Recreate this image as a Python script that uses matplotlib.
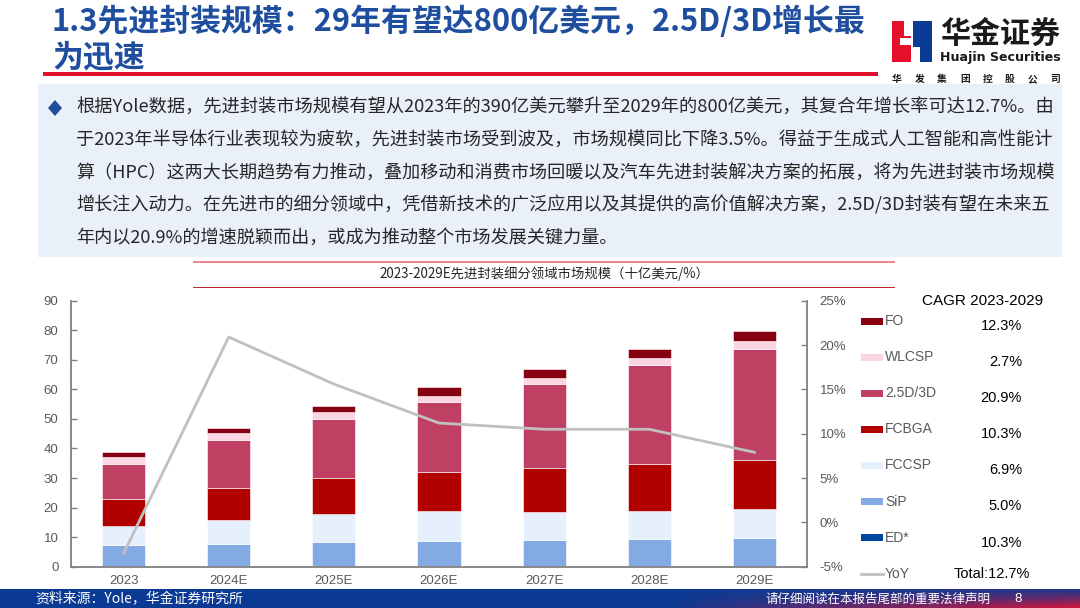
import numpy as np
import matplotlib
matplotlib.use("Agg")
import matplotlib.pyplot as plt
from matplotlib.patches import Rectangle, Polygon

W, H = 1080, 608

# ---- data (billion USD), stacked bottom -> top
years = ['2023', '2024E', '2025E', '2026E', '2027E', '2028E', '2029E']
segments = ['ED*', 'SiP', 'FCCSP', 'FCBGA', '2.5D/3D', 'WLCSP', 'FO']
ed = [0.1, 0.1, 0.1, 0.1, 0.1, 0.2, 0.2]
sip = [7.1, 7.7, 8.2, 8.6, 9.1, 9.3, 9.4]
fccsp = [6.5, 8.0, 9.4, 10.2, 9.4, 9.4, 9.8]
fcbga = [9.3, 10.8, 12.3, 13.1, 14.9, 15.8, 16.7]
d25_3d = [11.9, 16.2, 20.1, 23.7, 28.3, 33.6, 37.7]
wlcsp = [2.2, 2.3, 2.1, 2.2, 2.1, 2.3, 2.4]
fo = [1.8, 1.8, 2.1, 2.8, 3.0, 3.1, 3.5]
yoy = [-3.5, 20.9, 15.6, 11.2, 10.5, 10.5, 7.9]
cagr = ['10.3%', '5.0%', '6.9%', '10.3%', '20.9%', '2.7%', '12.3%']
total_cagr = 'Total:12.7%'

colors = ['#0046A0', '#84AAE4', '#E6F0FD', '#B00000', '#C04064', '#F9D6E1', '#870012']

title_lines = ['1.3先进封装规模：29年有望达800亿美元，2.5D/3D增长最', '为迅速']
body_lines = [
    '根据Yole数据，先进封装市场规模有望从2023年的390亿美元攀升至2029年的800亿美元，其复合年增长率可达12.7%。由',
    '于2023年半导体行业表现较为疲软，先进封装市场受到波及，市场规模同比下降3.5%。得益于生成式人工智能和高性能计',
    '算（HPC）这两大长期趋势有力推动，叠加移动和消费市场回暖以及汽车先进封装解决方案的拓展，将为先进封装市场规模',
    '增长注入动力。在先进市的细分领域中，凭借新技术的广泛应用以及其提供的高价值解决方案，2.5D/3D封装有望在未来五',
    '年内以20.9%的增速脱颖而出，或成为推动整个市场发展关键力量。',
]
chart_title = '2023-2029E先进封装细分领域市场规模（十亿美元/%）'

CJK = ['Noto Sans CJK SC', 'DejaVu Sans']
LAT = ['Liberation Sans', 'Noto Sans CJK SC']
plt.rcParams['font.family'] = LAT

fig = plt.figure(figsize=(W / 100, H / 100), dpi=100)
renderer = fig.canvas.get_renderer()


def fx(x):
    return x / W


def fy(y):
    return 1 - y / H


def rect(x0, y0, x1, y1, color, **kw):
    fig.add_artist(Rectangle((fx(x0), fy(y1)), (x1 - x0) / W, (y1 - y0) / H,
                             transform=fig.transFigure, facecolor=color,
                             edgecolor='none', **kw))


def fit(t, width):
    w = t.get_window_extent(renderer=renderer).width
    t.set_fontsize(t.get_fontsize() * width / w)
    return t.get_fontsize()


# ---- header
tt = fig.text(fx(52), fy(22), title_lines[0], family=CJK, weight='bold',
              color='#1F4E9E', fontsize=20, va='center', ha='left')
fs = fit(tt, 812)
fig.text(fx(52), fy(57), title_lines[1], family=CJK, weight='bold',
         color='#1F4E9E', fontsize=fs, va='center', ha='left')
rect(43, 72, 878, 76, '#E0102A')

# logo
rect(892, 21, 911, 62, '#E5102A')
rect(913, 21, 932, 62, '#0A3C96')
rect(904, 21, 911, 36, 'white')
rect(913, 47, 920, 62, 'white')
rect(900, 38, 911, 45, 'white')
lg = fig.text(fx(940), fy(34), '华金证券', family=CJK, weight='bold',
              color='#1A1A1A', fontsize=20, va='center', ha='left')
fit(lg, 120)
lg2 = fig.text(fx(940), fy(57), 'Huajin Securities', family=['DejaVu Sans'],
               weight='bold', color='#1A1A1A', fontsize=9, va='center', ha='left')
fit(lg2, 120)
for i, ch in enumerate('华发集团控股公司'):
    fig.text(fx(897 + i * 22.6), fy(79), ch, family=CJK, weight='bold',
             color='#1A1A1A', fontsize=7, va='center', ha='center')

# ---- text box
rect(38, 84, 1062, 257, '#EAF0FA')
fig.add_artist(Polygon([(fx(55), fy(100)), (fx(62), fy(108)), (fx(55), fy(116)), (fx(48), fy(108))],
                       closed=True, transform=fig.transFigure, facecolor='#1F4E9E', edgecolor='none'))
sizes = []
for i, line in enumerate(body_lines):
    t = fig.text(fx(76), fy(108 + i * 32.4), line, family=CJK, color='#262626',
                 fontsize=12.5, va='center', ha='left')
    if i < 4:
        sizes.append(fit(t, 977))
    else:
        t.set_fontsize(np.mean(sizes))

# ---- chart title
rect(193, 261, 895, 262.5, '#E8898F')
rect(193, 287, 895, 288.5, '#C0282E')
fig.text(fx(544), fy(274), chart_title, family=CJK, color='#262626',
         fontsize=9.6, va='center', ha='center')

# ---- chart
ax = fig.add_axes([fx(71), fy(566.7), (807 - 71) / W, (566.7 - 300.7) / H])
x = np.arange(len(years))
bottom = np.zeros(len(years))
for vals, c in zip([ed, sip, fccsp, fcbga, d25_3d, wlcsp, fo], colors):
    ax.bar(x, vals, width=0.41, bottom=bottom, color=c, edgecolor='white', linewidth=0.4)
    bottom += np.array(vals)
ax.set_xlim(-0.5, len(years) - 0.5)
ax.set_ylim(0, 90)
ax.set_yticks(range(0, 91, 10))
ax.set_xticks(x)
ax.set_xticklabels(years)
ax.tick_params(axis='y', direction='in', length=4, width=1, color='#808080',
               labelsize=9.5, labelcolor='#595959', pad=9)
ax.tick_params(axis='x', length=0, labelsize=9.5, labelcolor='#595959', pad=6)
for s in ['top', 'right']:
    ax.spines[s].set_visible(False)
for s in ['left', 'bottom']:
    ax.spines[s].set_color('#808080')
    ax.spines[s].set_linewidth(1.3)

ax2 = ax.twinx()
ax2.plot(x, yoy, color='#C0C0C0', lw=2)
ax2.set_ylim(-5, 25)
ax2.set_yticks(range(-5, 26, 5))
ax2.set_yticklabels(['%d%%' % v for v in range(-5, 26, 5)])
ax2.tick_params(axis='y', direction='in', length=4, width=1, color='#808080',
                labelsize=9.5, labelcolor='#595959', pad=9)
for s in ['top', 'left', 'bottom']:
    ax2.spines[s].set_visible(False)
ax2.spines['right'].set_color('#808080')
ax2.spines['right'].set_linewidth(1.3)

# ---- legend with CAGR column
fig.text(fx(983), fy(301), 'CAGR 2023-2029', color='black', fontsize=11,
         va='center', ha='center')
for k, idx in enumerate(range(len(segments) - 1, -1, -1)):
    yc = 321 + k * 36.1
    rect(861, yc - 3.5, 883, yc + 3.5, colors[idx])
    fig.text(fx(885), fy(yc), segments[idx], color='#595959', fontsize=10,
             va='center', ha='left')
    fig.text(fx(1022), fy(yc + 5), cagr[idx], color='black', fontsize=10.5,
             va='center', ha='right')
yc = 321 + 7 * 36.1
fig.add_artist(plt.Line2D([fx(861), fx(883)], [fy(yc), fy(yc)], transform=fig.transFigure,
                          color='#C0C0C0', lw=2))
fig.text(fx(885), fy(yc), 'YoY', color='#595959', fontsize=10, va='center', ha='left')
fig.text(fx(1030), fy(yc), total_cagr, color='black', fontsize=10.5, va='center', ha='right')

# ---- footer band with gradient
fax = fig.add_axes([0, 0, 1, 19 / H])
gx = np.linspace(0, 1, 400)[None, :]
gy = np.linspace(0, 1, 20)[:, None]
blue = np.array([0.04, 0.23, 0.58])
red = np.array([0.82, 0.08, 0.23])
m = np.clip((gx - 0.62) / 0.38, 0, 1) ** 0.9 * (0.15 + 0.85 * gy ** 1.3)
img = blue[None, None, :] * (1 - m[..., None]) + red[None, None, :] * m[..., None]
fax.imshow(img, aspect='auto', extent=[0, 1, 0, 1])
fax.set_axis_off()
fig.text(fx(35), fy(599), '资料来源：Yole，华金证券研究所', family=CJK, style='italic',
         color='white', fontsize=10, va='center', ha='left')
fig.text(fx(990), fy(599), '请仔细阅读在本报告尾部的重要法律声明', family=CJK,
         color='white', fontsize=9, va='center', ha='right')
fig.text(fx(1018), fy(599), '8', color='white', fontsize=9.5, va='center', ha='center')

fig.savefig('out.png', dpi=100)
